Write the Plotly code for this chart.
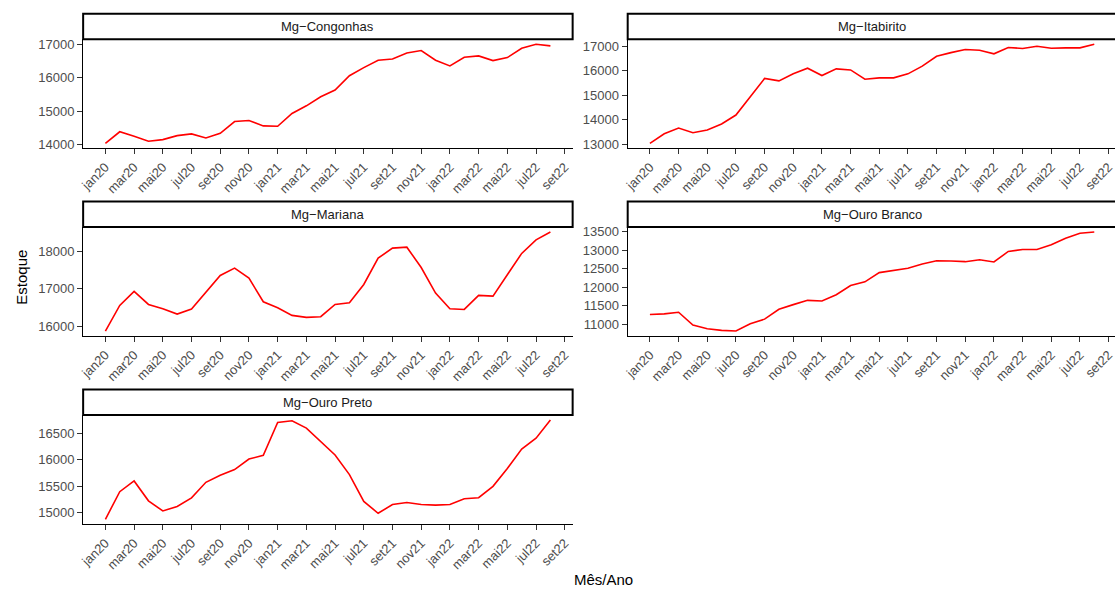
import plotly.graph_objects as go

# ---------------- data ----------------
months = ["jan20", "fev20", "mar20", "abr20", "mai20", "jun20", "jul20", "ago20",
          "set20", "out20", "nov20", "dez20", "jan21", "fev21", "mar21", "abr21",
          "mai21", "jun21", "jul21", "ago21", "set21", "out21", "nov21", "dez21",
          "jan22", "fev22", "mar22", "abr22", "mai22", "jun22", "jul22", "ago22",
          "set22"]
tick_labels = months[::2]

panels = ["Mg−Congonhas", "Mg−Itabirito", "Mg−Mariana", "Mg−Ouro Branco", "Mg−Ouro Preto"]

congonhas = [14040, 14385, 14250, 14100, 14150, 14270, 14320, 14200,
             14340, 14690, 14720, 14560, 14550, 14930, 15160, 15430,
             15630, 16060, 16300, 16520, 16560, 16740, 16810, 16520,
             16350, 16610, 16650, 16510, 16600, 16880, 17000, 16950]
itabirito = [13030, 13420, 13655, 13465, 13575, 13820, 14190, 14950,
             15690, 15590, 15880, 16110, 15810, 16085, 16040, 15660,
             15715, 15715, 15880, 16195, 16600, 16750, 16880, 16850,
             16700, 16960, 16920, 17010, 16930, 16945, 16945, 17095]
mariana = [15876, 16557, 16929, 16584, 16469, 16327, 16460, 16912,
           17354, 17549, 17283, 16655, 16496, 16292, 16239, 16257,
           16584, 16628, 17115, 17814, 18080, 18106, 17566, 16885,
           16469, 16451, 16823, 16805, 17370, 17940, 18300, 18510]
ouro_branco = [11259, 11277, 11321, 10973, 10875, 10830, 10812, 11009,
               11134, 11402, 11527, 11643, 11625, 11795, 12045, 12143,
               12393, 12455, 12509, 12625, 12714, 12705, 12688, 12741,
               12679, 12964, 13018, 13018, 13143, 13321, 13455, 13491]
ouro_preto = [14873, 15394, 15597, 15222, 15031, 15114, 15279, 15572,
              15705, 15813, 16010, 16080, 16703, 16735, 16595, 16341,
              16087, 15718, 15210, 14987, 15152, 15190, 15152, 15140,
              15152, 15260, 15280, 15496, 15833, 16201, 16405, 16748]

series = [congonhas, itabirito, mariana, ouro_branco, ouro_preto]
y_dticks = [1000, 1000, 1000, 500, 500]

# ---------------- layout (pixel geometry) ----------------
W, H = 1115, 592
col_x = [(78.5, 570.2), (625.5, 1116.5)]
row_y = [(36.7, 147.0), (226.7, 337.0), (417.0, 527.5)]
strip_h = 25.8

def px(x):
    return x / W

def py(y):
    return 1 - y / H

fig = go.Figure()
layout = dict(
    width=W, height=H,
    margin=dict(l=0, r=0, t=0, b=0),
    paper_bgcolor="white", plot_bgcolor="white",
    showlegend=False,
    font=dict(family="Liberation Sans, Arial, sans-serif", color="#4D4D4D", size=13),
)
shapes = []
annotations = []

for k, (name, vals) in enumerate(zip(panels, series)):
    r, c = divmod(k, 2)
    x0p, x1p = col_x[c]
    y0p, y1p = row_y[r]
    xa = "xaxis" if k == 0 else f"xaxis{k+1}"
    ya = "yaxis" if k == 0 else f"yaxis{k+1}"
    xr = "x" if k == 0 else f"x{k+1}"
    yr = "y" if k == 0 else f"y{k+1}"

    n = len(months) - 1
    lo = -0.05 * (n - 1)
    hi = (n - 1) + 0.05 * (n - 1)
    scale = (x1p - x0p) / (hi - lo)
    x1_clip = min(x1p, W)
    hi_vis = lo + (x1_clip - x0p) / scale

    vmin, vmax = min(vals), max(vals)
    span = vmax - vmin

    fig.add_trace(go.Scatter(
        x=list(range(len(vals))), y=vals, mode="lines",
        line=dict(color="#FF0000", width=1.6),
        xaxis=xr, yaxis=yr, hoverinfo="skip",
    ))

    layout[xa] = dict(
        domain=[px(x0p), px(x1_clip)], anchor=yr,
        range=[lo, hi_vis], showgrid=False, zeroline=False,
        showline=True, linecolor="black", linewidth=1.3,
        ticks="outside", ticklen=5, tickcolor="#333333", tickwidth=1.1,
        tickmode="array", tickvals=list(range(0, len(months), 2)), ticktext=tick_labels,
        tickangle=-45, tickfont=dict(size=13, color="#4D4D4D"),
        ticklabeloverflow="allow",
    )
    layout[ya] = dict(
        domain=[py(y1p), py(y0p)], anchor=xr,
        range=[vmin - 0.05 * span, vmax + 0.05 * span],
        showgrid=False, zeroline=False,
        showline=True, linecolor="black", linewidth=1.3,
        ticks="outside", ticklen=5, tickcolor="#333333", tickwidth=1.1,
        dtick=y_dticks[k], tickformat="d",
        tickfont=dict(size=13, color="#4D4D4D"),
    )

    # strip
    shapes.append(dict(type="rect", xref="paper", yref="paper",
                       x0=px(x0p), x1=px(x1p), y0=py(y0p), y1=py(y0p - strip_h),
                       line=dict(color="black", width=2), fillcolor="white", layer="above"))
    annotations.append(dict(text=name, xref="paper", yref="paper",
                            x=px((x0p + x1p) / 2), y=py(y0p - strip_h / 2),
                            showarrow=False, xanchor="center", yanchor="middle",
                            font=dict(size=13, color="#1A1A1A")))

annotations.append(dict(text="Estoque", xref="paper", yref="paper",
                        x=px(17), y=py(277), textangle=-90, showarrow=False,
                        xanchor="center", yanchor="middle",
                        font=dict(size=15, color="black")))
annotations.append(dict(text="Mês/Ano", xref="paper", yref="paper",
                        x=px(601), y=py(583), showarrow=False,
                        xanchor="center", yanchor="middle",
                        font=dict(size=15, color="black")))

layout["shapes"] = shapes
layout["annotations"] = annotations
fig.update_layout(**layout)
fig.write_html("out.html", config={"displayModeBar": False},
               post_script="document.body.style.margin='0';document.body.style.overflow='hidden';")
